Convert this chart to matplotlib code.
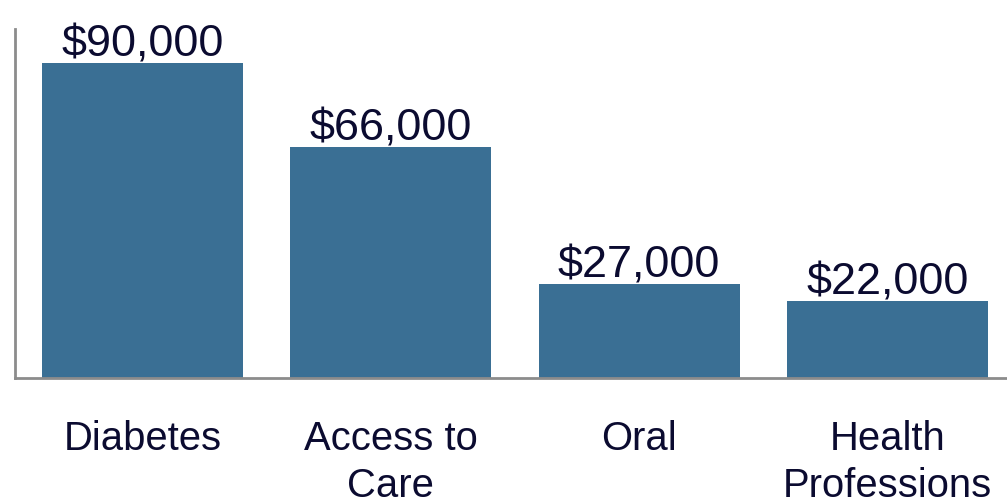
import matplotlib.pyplot as plt

# datos
categories = ["Diabetes", "Access to\nCare", "Oral", "Health\nProfessions"]
values = [90000, 66000, 27000, 22000]
value_labels = ["$90,000", "$66,000", "$27,000", "$22,000"]

BAR_COLOR = "#3a6f94"
TEXT_COLOR = "#0b0b30"
AXIS_COLOR = "#8c8c8c"

plt.rcParams["font.family"] = ["Liberation Sans", "DejaVu Sans"]

fig = plt.figure(figsize=(10.07, 4.97), dpi=100)
ax = fig.add_axes([0.0149, 0.2394, 0.9851, 0.702])

x = list(range(len(categories)))
ax.bar(x, values, width=0.81, color=BAR_COLOR, zorder=2)

for xi, v, lab in zip(x, values, value_labels):
    ax.annotate(lab, (xi, v), xytext=(0, 4.5), textcoords="offset points",
                ha="center", va="baseline", fontsize=32.4, color=TEXT_COLOR)

ax.set_xlim(-0.513, 3.481)
ax.set_ylim(0, 99700)

ax.set_xticks(x)
ax.set_xticklabels(categories, fontsize=28.8, color=TEXT_COLOR, linespacing=1.3)
ax.tick_params(axis="x", length=0, pad=30)
ax.set_yticks([])

for side in ["top", "right"]:
    ax.spines[side].set_visible(False)
for side in ["left", "bottom"]:
    ax.spines[side].set_color(AXIS_COLOR)
    ax.spines[side].set_linewidth(2)

fig.savefig("out.png", dpi=100)
